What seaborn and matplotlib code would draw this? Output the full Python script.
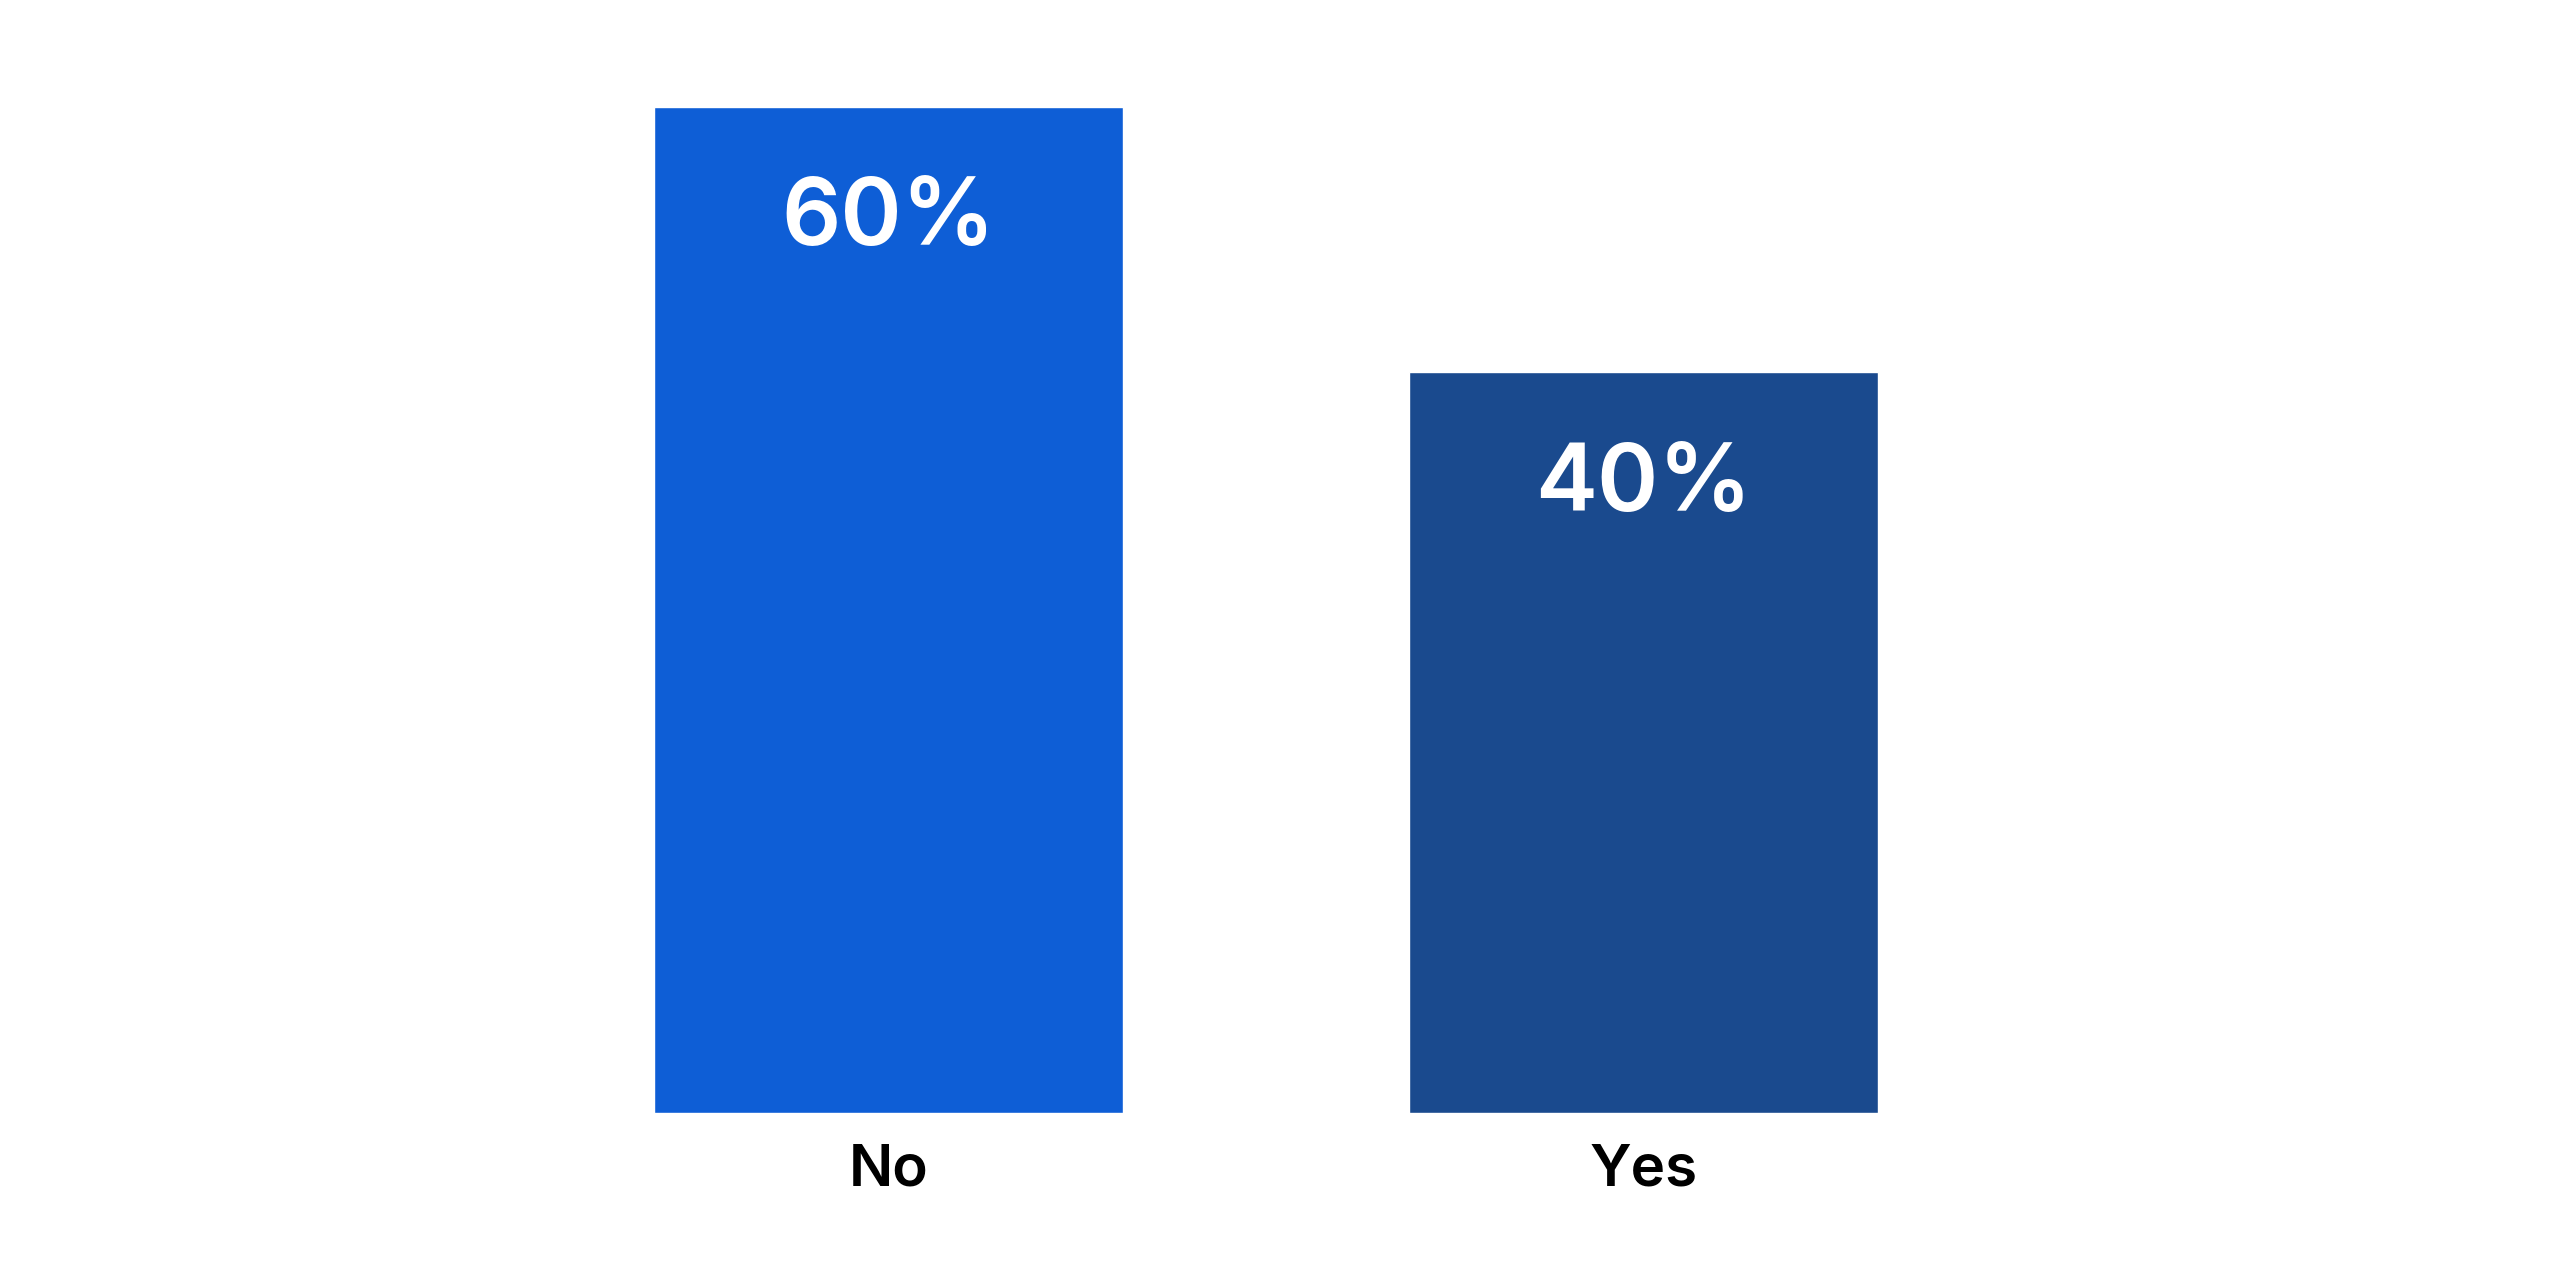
import matplotlib
matplotlib.use('Agg')
import matplotlib.pyplot as plt
import seaborn as sns
import pandas as pd

# values (labels are rounded)
answers = ['No', 'Yes']
shares = [57.6, 42.4]
share_labels = ['60%', '40%']
bar_colors = ['#0E5ED6', '#1A4A8E']

df = pd.DataFrame({'answer': answers, 'share': shares})

sns.set_theme(style='white')
plt.rcParams['font.family'] = ['Inter', 'DejaVu Sans']

fig = plt.figure(figsize=(25.5, 12.82), dpi=100)
ax = fig.add_axes([0, 169 / 1282, 1, 1113 / 1282])

sns.barplot(data=df, x='answer', y='share', hue='answer', palette=bar_colors,
            width=0.62, saturation=1, legend=False, ax=ax)

# map the bar centres onto the same pixel spots as the reference
ax.set_xlim(-888.5 / 755, (2550 - 888.5) / 755)
ax.set_ylim(0, shares[0] * 1113 / 1006)

for i, (val, lab) in enumerate(zip(shares, share_labels)):
    ax.annotate(lab, (i, val), xytext=(0, -50.5), textcoords='offset points',
                ha='center', va='top', color='white', fontsize=67, fontweight='semibold')

ax.set_xlabel('')
ax.set_ylabel('')
ax.set_yticks([])
ax.tick_params(axis='x', length=0, pad=22, labelsize=42, labelcolor='black')
for t in ax.get_xticklabels():
    t.set_fontweight('semibold')
sns.despine(ax=ax, left=True, bottom=True)

fig.savefig('out.png', dpi=100, facecolor='white')
plt.close()
